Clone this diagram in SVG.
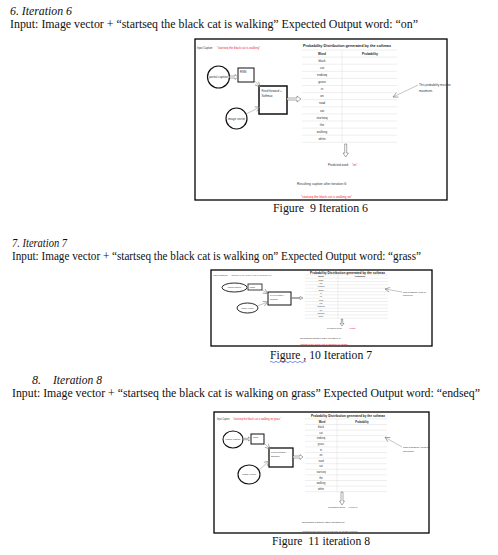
<svg xmlns="http://www.w3.org/2000/svg" width="498" height="555" viewBox="0 0 498 555">
<style>
.b{font-family:"Liberation Serif","Times New Roman",serif;font-size:12px;fill:#111}
.i{font-style:italic}
.s{font-family:"Liberation Sans",Arial,sans-serif;fill:#333}
.r{fill:#e8262b}
.ttl{font-weight:bold;fill:#222}
.frame{fill:#fff;stroke:#000;stroke-width:1.3}
.box{fill:#fff;stroke:#111}
.node{fill:#fff;stroke:#111}
.grid{stroke:#d4d4d4;stroke-width:0.4}
.con{stroke:#8a8a8a;stroke-width:0.5;fill:none}
.ha{fill:#fff;stroke:#444;stroke-width:0.45}
</style>
<defs>
<marker id="op" viewBox="0 0 10 10" refX="9" refY="5" markerWidth="6" markerHeight="6" orient="auto" markerUnits="userSpaceOnUse">
<path d="M1 1 L9 5 L1 9" fill="none" stroke="#777" stroke-width="1"/>
</marker>
</defs>
<rect width="498" height="555" fill="#fff"/>

<!-- Section 6 -->
<g id="sec6">
<text class="b i" x="10" y="15" textLength="62" lengthAdjust="spacingAndGlyphs">6. Iteration 6</text>
<text class="b" x="10" y="28" textLength="408" lengthAdjust="spacingAndGlyphs">Input: Image vector + “startseq the black cat is walking” Expected Output word: “on”</text>
</g>

<g id="fig9">
<rect class="frame" x="195" y="39" width="252" height="161"/>
<g class="s" font-size="3">
<text x="197" y="49" textLength="16" lengthAdjust="spacingAndGlyphs">Input Caption:</text>
<text class="r" x="217" y="49" textLength="43" lengthAdjust="spacingAndGlyphs">“startseq the black cat is walking”</text>
</g>
<g id="f9-partial"><circle class="node" cx="218.5" cy="77" r="11" stroke-width="1.2"/><text class="s" x="218.5" y="78" font-size="3" text-anchor="middle">partial caption</text></g>
<g id="f9-rnn"><rect class="box" x="238" y="68" width="16" height="14" stroke-width="1"/><text class="s" x="240" y="73" font-size="3">RNN</text></g>
<g id="f9-ff"><rect class="box" x="259" y="86" width="28" height="28" stroke-width="1.5"/><text class="s" x="261.5" y="92" font-size="3">Feed forward +</text><text class="s" x="261.5" y="97" font-size="3">Softmax</text></g>
<g id="f9-img"><circle class="node" cx="236.5" cy="118.5" r="10.5" stroke-width="1.2"/><text class="s" x="236.5" y="119.5" font-size="3" text-anchor="middle">image vector</text></g>
<g id="f9-table">
<text class="s ttl" x="303" y="46.5" font-size="3.8" textLength="88" lengthAdjust="spacingAndGlyphs">Probability Distribution generated by the softmax</text>
<g class="grid">
<line x1="302" y1="50" x2="397" y2="50"/><line x1="302" y1="57.1" x2="397" y2="57.1"/><line x1="302" y1="64.2" x2="397" y2="64.2"/><line x1="302" y1="71.3" x2="397" y2="71.3"/><line x1="302" y1="78.4" x2="397" y2="78.4"/><line x1="302" y1="85.5" x2="397" y2="85.5"/><line x1="302" y1="92.6" x2="397" y2="92.6"/><line x1="302" y1="99.7" x2="397" y2="99.7"/><line x1="302" y1="106.8" x2="397" y2="106.8"/><line x1="302" y1="113.9" x2="397" y2="113.9"/><line x1="302" y1="121" x2="397" y2="121"/><line x1="302" y1="128.1" x2="397" y2="128.1"/><line x1="302" y1="135.2" x2="397" y2="135.2"/><line x1="302" y1="142.3" x2="397" y2="142.3"/>
<line x1="342" y1="50" x2="342" y2="142.3"/>
</g>
<g class="s" font-size="3.1" text-anchor="middle">
<text class="ttl" x="322" y="54.7">Word</text><text class="ttl" x="370" y="54.7">Probability</text>
<text x="322" y="61.8">black</text><text x="322" y="68.9">cat</text><text x="322" y="76">endseq</text><text x="322" y="83.1">grass</text><text x="322" y="90.2">in</text><text x="322" y="97.3">on</text><text x="322" y="104.4">road</text><text x="322" y="111.5">sat</text><text x="322" y="118.6">startseq</text><text x="322" y="125.7">the</text><text x="322" y="132.8">walking</text><text x="322" y="139.9">white</text>
</g>
</g>
<g id="f9-note"><text class="s" x="419" y="86" font-size="3">This probability must be</text><text class="s" x="419" y="92" font-size="3">maximum.</text></g>
<g id="f9-pred"><text class="s" x="328" y="165.5" font-size="3">Predicted word:</text><text class="s r" x="352" y="165.5" font-size="3">“on”</text></g>
<g id="f9-res"><text class="s" x="297" y="185" font-size="3" textLength="50" lengthAdjust="spacingAndGlyphs">Resulting caption after iteration 6:</text><text class="s r" x="301" y="198" font-size="3" textLength="51" lengthAdjust="spacingAndGlyphs">“startseq the black cat is walking on”</text></g>
<g id="f9-connectors">
<path class="ha" d="M229.5 76 H235 V74.5 L238 77 L235 79.5 V78 H229.5Z"/>
<line class="con" x1="254" y1="80" x2="260" y2="87" marker-end="url(#op)"/>
<line class="con" x1="246" y1="114" x2="260" y2="107" marker-end="url(#op)"/>
<path class="ha" d="M287 98 H297 V96 L301 99 L297 102 V100 H287Z"/>
<line class="con" x1="418" y1="85" x2="393" y2="97" marker-end="url(#op)"/>
<path class="ha" d="M344.7 144 V153 H343 L345.7 157 L348.4 153 H346.7 V144Z"/>
</g>
</g>
<text class="b" x="273" y="212" xml:space="preserve" textLength="95" lengthAdjust="spacingAndGlyphs">Figure  9 Iteration 6</text>

<!-- Section 7 -->
<g id="sec7">
<text class="b i" x="12" y="246.5" font-size="11" textLength="55" lengthAdjust="spacingAndGlyphs">7. Iteration 7</text>
<text class="b" x="12" y="260" textLength="409" lengthAdjust="spacingAndGlyphs">Input: Image vector + “startseq the black cat is walking on” Expected Output word: “grass”</text>
</g>

<g id="fig10">
<rect class="frame" x="211" y="270" width="221" height="76"/>
<g class="s" font-size="2.2">
<text x="213" y="276" textLength="15" lengthAdjust="spacingAndGlyphs">Input Caption:</text>
<text class="r" x="231" y="276" textLength="41" lengthAdjust="spacingAndGlyphs">“startseq the black cat is walking on”</text>
</g>
<g id="f10-partial"><ellipse class="node" cx="234.5" cy="287.5" rx="12.5" ry="4.5" stroke-width="0.9"/><text class="s" x="234.5" y="288.3" font-size="2.2" text-anchor="middle">partial caption</text></g>
<g id="f10-rnn"><rect class="box" x="248" y="284" width="14" height="6" stroke-width="0.8"/><text class="s" x="250" y="287.8" font-size="2.2">RNN</text></g>
<g id="f10-ff"><rect class="box" x="268" y="292" width="23" height="13" stroke-width="1"/><text class="s" x="270" y="296" font-size="2.2">Feed forward +</text><text class="s" x="270" y="299.5" font-size="2.2">Softmax</text></g>
<g id="f10-img"><ellipse class="node" cx="247.5" cy="308" rx="10.5" ry="5" stroke-width="0.9"/><text class="s" x="247.5" y="308.8" font-size="2.2" text-anchor="middle">image vector</text></g>
<g id="f10-table">
<text class="s ttl" x="310" y="273.6" font-size="2.6" textLength="75" lengthAdjust="spacingAndGlyphs">Probability Distribution generated by the softmax</text>
<g class="grid" stroke-width="0.3">
<line x1="305" y1="274.9" x2="388" y2="274.9"/><line x1="305" y1="278.2" x2="388" y2="278.2"/><line x1="305" y1="281.6" x2="388" y2="281.6"/><line x1="305" y1="284.9" x2="388" y2="284.9"/><line x1="305" y1="288.2" x2="388" y2="288.2"/><line x1="305" y1="291.6" x2="388" y2="291.6"/><line x1="305" y1="294.9" x2="388" y2="294.9"/><line x1="305" y1="298.2" x2="388" y2="298.2"/><line x1="305" y1="301.5" x2="388" y2="301.5"/><line x1="305" y1="304.9" x2="388" y2="304.9"/><line x1="305" y1="308.2" x2="388" y2="308.2"/><line x1="305" y1="311.5" x2="388" y2="311.5"/><line x1="305" y1="314.9" x2="388" y2="314.9"/><line x1="305" y1="318.2" x2="388" y2="318.2"/>
<line x1="338" y1="274.9" x2="338" y2="318.2"/>
</g>
<g class="s" font-size="2.1" text-anchor="middle">
<text class="ttl" x="321" y="277.3">Word</text><text class="ttl" x="360" y="277.3">Probability</text>
<text x="321" y="280.7">black</text><text x="321" y="284">cat</text><text x="321" y="287.3">endseq</text><text x="321" y="290.7">grass</text><text x="321" y="294">in</text><text x="321" y="297.3">on</text><text x="321" y="300.7">road</text><text x="321" y="304">sat</text><text x="321" y="307.3">startseq</text><text x="321" y="310.7">the</text><text x="321" y="314">walking</text><text x="321" y="317.3">white</text>
</g>
</g>
<g id="f10-note"><text class="s" x="403" y="292.5" font-size="2.2">This probability must be</text><text class="s" x="403" y="296" font-size="2.2">maximum.</text></g>
<g id="f10-pred"><text class="s" x="327" y="329" font-size="2.2">Predicted word:</text><text class="s r" x="349" y="329" font-size="2.2">“grass”</text></g>
<g id="f10-res"><text class="s" x="300" y="339" font-size="2.2" textLength="41" lengthAdjust="spacingAndGlyphs">Resulting caption after iteration 7:</text><text class="s r" x="300" y="345" font-size="2.2" textLength="48" lengthAdjust="spacingAndGlyphs">“startseq the black cat is walking on grass”</text></g>
<g id="f10-connectors">
<line class="con" x1="247" y1="287.5" x2="248" y2="287.5"/>
<line class="con" x1="262" y1="290" x2="268" y2="293.5" marker-end="url(#op)"/>
<line class="con" x1="257" y1="306" x2="268" y2="302" marker-end="url(#op)"/>
<path class="ha" d="M291 297.5 H300 V296.5 L303 298 L300 299.5 V298.5 H291Z"/>
<line class="con" x1="402" y1="292" x2="385" y2="289" marker-end="url(#op)"/>
<path class="ha" d="M341.3 319 V323.5 H340 L342 326 L344 323.5 H342.7 V319Z"/>
</g>
</g>
<g id="cap10">
<text class="b" x="270" y="359" xml:space="preserve" textLength="102" lengthAdjust="spacingAndGlyphs">Figure , 10 Iteration 7</text>
<path d="M270 362 q1.2 -1.2 2.4 0 t2.4 0 t2.4 0 t2.4 0 t2.4 0 t2.4 0 t2.4 0 t2.4 0 t2.4 0 t2.4 0 t2.4 0 t2.4 0 t2.4 0 t2.4 0 t2.4 0" fill="none" stroke="#3355ee" stroke-width="0.7"/>
</g>

<!-- Section 8 -->
<g id="sec8">
<text class="b i" x="32" y="383.5" font-size="11">8.</text>
<text class="b i" x="53" y="383.5" font-size="11" textLength="49" lengthAdjust="spacingAndGlyphs">Iteration 8</text>
<text class="b" x="12" y="397" textLength="468" lengthAdjust="spacingAndGlyphs">Input: Image vector + “startseq the black cat is walking on grass” Expected Output word: “endseq”</text>
</g>

<g id="fig11">
<rect class="frame" x="214" y="412" width="215" height="121"/>
<g class="s" font-size="2.6">
<text x="217" y="420" textLength="13" lengthAdjust="spacingAndGlyphs">Input Caption:</text>
<text class="r" x="233" y="420" textLength="48" lengthAdjust="spacingAndGlyphs">“startseq the black cat is walking on grass”</text>
</g>
<g id="f11-partial"><ellipse class="node" cx="233" cy="439.5" rx="10" ry="8.5" stroke-width="1.1"/><text class="s" x="233" y="440.4" font-size="2.4" text-anchor="middle">partial caption</text></g>
<g id="f11-rnn"><rect class="box" x="251" y="434" width="13" height="10" stroke-width="1"/><text class="s" x="253" y="438" font-size="2.4">RNN</text></g>
<g id="f11-ff"><rect class="box" x="269" y="448" width="24" height="19" stroke-width="1.3"/><text class="s" x="271" y="453" font-size="2.4">Feed forward +</text><text class="s" x="271" y="457" font-size="2.4">Softmax</text></g>
<g id="f11-img"><ellipse class="node" cx="249" cy="474.5" rx="11" ry="9.5" stroke-width="1.1"/><text class="s" x="249" y="475.4" font-size="2.4" text-anchor="middle">image vector</text></g>
<g id="f11-table">
<text class="s ttl" x="311" y="416.6" font-size="3" textLength="74" lengthAdjust="spacingAndGlyphs">Probability Distribution generated by the softmax</text>
<g class="grid">
<line x1="305" y1="418.9" x2="387" y2="418.9"/><line x1="305" y1="424.5" x2="387" y2="424.5"/><line x1="305" y1="430.1" x2="387" y2="430.1"/><line x1="305" y1="435.7" x2="387" y2="435.7"/><line x1="305" y1="441.3" x2="387" y2="441.3"/><line x1="305" y1="446.9" x2="387" y2="446.9"/><line x1="305" y1="452.5" x2="387" y2="452.5"/><line x1="305" y1="458.1" x2="387" y2="458.1"/><line x1="305" y1="463.7" x2="387" y2="463.7"/><line x1="305" y1="469.3" x2="387" y2="469.3"/><line x1="305" y1="474.9" x2="387" y2="474.9"/><line x1="305" y1="480.5" x2="387" y2="480.5"/><line x1="305" y1="486.1" x2="387" y2="486.1"/><line x1="305" y1="491.7" x2="387" y2="491.7"/>
<line x1="337" y1="418.9" x2="337" y2="491.7"/>
</g>
<g class="s" font-size="2.6" text-anchor="middle">
<text class="ttl" x="322" y="422.6">Word</text><text class="ttl" x="362" y="422.6">Probability</text>
<text x="321" y="428.2">black</text><text x="321" y="433.8">cat</text><text x="321" y="439.4">endseq</text><text x="321" y="445">grass</text><text x="321" y="450.6">in</text><text x="321" y="456.2">on</text><text x="321" y="461.8">road</text><text x="321" y="467.4">sat</text><text x="321" y="473">startseq</text><text x="321" y="478.6">the</text><text x="321" y="484.2">walking</text><text x="321" y="489.8">white</text>
</g>
</g>
<g id="f11-note"><text class="s" x="403" y="447.5" font-size="2.5">This probability must be</text><text class="s" x="403" y="452" font-size="2.5">maximum.</text></g>
<g id="f11-pred"><text class="s" x="328" y="508" font-size="2.5">Predicted word:</text><text class="s r" x="348" y="508" font-size="2.5">“endseq”</text></g>
<g id="f11-res"><text class="s" x="302" y="522.5" font-size="2.5" textLength="43" lengthAdjust="spacingAndGlyphs">Resulting caption after iteration 8:</text><text class="s r" x="302" y="531.5" font-size="2.5" textLength="56" lengthAdjust="spacingAndGlyphs">“startseq the black cat is walking on grass endseq”</text></g>
<g id="f11-connectors">
<path class="ha" d="M243 438.3 H248.5 V437 L251 439 L248.5 441 V439.7 H243Z"/>
<line class="con" x1="264" y1="443" x2="270" y2="449" marker-end="url(#op)"/>
<line class="con" x1="259" y1="470" x2="269" y2="461" marker-end="url(#op)"/>
<path class="ha" d="M293 456 H300 V454.5 L303 457 L300 459.5 V458 H293Z"/>
<line class="con" x1="402" y1="447" x2="385" y2="437.3" marker-end="url(#op)"/>
<path class="ha" d="M341 492 V501 H339.5 L342 505 L344.5 501 H343 V492Z"/>
</g>
</g>
<text class="b" x="272" y="545" xml:space="preserve" textLength="98" lengthAdjust="spacingAndGlyphs">Figure  11 iteration 8</text>
</svg>
